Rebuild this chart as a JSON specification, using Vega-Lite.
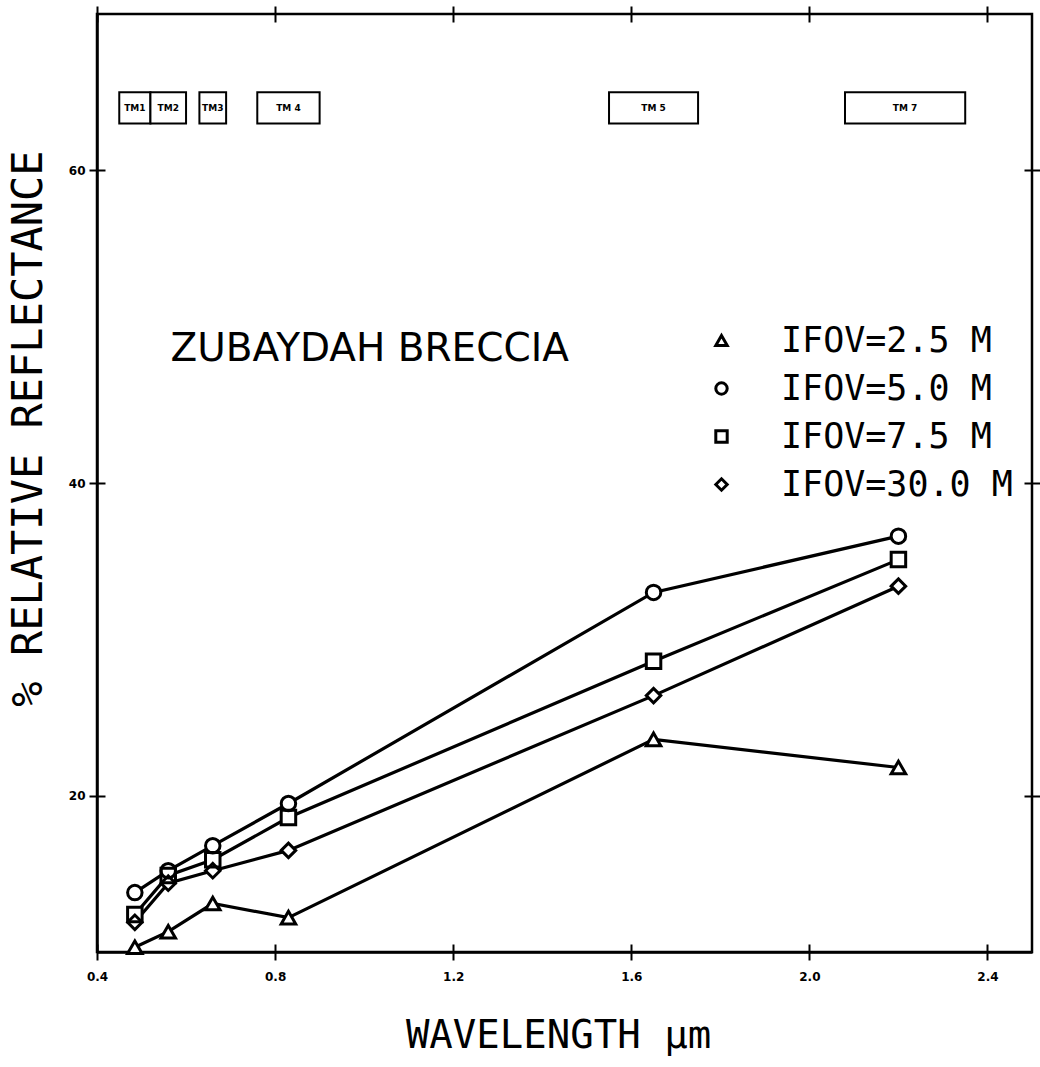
{
  "$schema": "https://vega.github.io/schema/vega-lite/v6.json",
  "width": 935,
  "height": 938,
  "autosize": {"type": "none"},
  "padding": {"left": 97, "top": 14, "right": 8, "bottom": 115},
  "background": "white",
  "config": {
    "view": {"stroke": "black", "strokeWidth": 2.5},
    "axis": {
      "domainColor": "black",
      "tickColor": "black",
      "domainWidth": 2.5,
      "tickWidth": 2,
      "grid": false,
      "labelColor": "black",
      "titleColor": "black"
    }
  },
  "datasets": {
    "spectra": [
      {"series": "IFOV=2.5 M", "wavelength": 0.485, "reflectance": 10.3},
      {"series": "IFOV=2.5 M", "wavelength": 0.56, "reflectance": 11.3},
      {"series": "IFOV=2.5 M", "wavelength": 0.66, "reflectance": 13.1},
      {"series": "IFOV=2.5 M", "wavelength": 0.83, "reflectance": 12.2},
      {"series": "IFOV=2.5 M", "wavelength": 1.65, "reflectance": 23.6},
      {"series": "IFOV=2.5 M", "wavelength": 2.2, "reflectance": 21.8},
      {"series": "IFOV=5.0 M", "wavelength": 0.485, "reflectance": 13.8},
      {"series": "IFOV=5.0 M", "wavelength": 0.56, "reflectance": 15.2},
      {"series": "IFOV=5.0 M", "wavelength": 0.66, "reflectance": 16.8},
      {"series": "IFOV=5.0 M", "wavelength": 0.83, "reflectance": 19.5},
      {"series": "IFOV=5.0 M", "wavelength": 1.65, "reflectance": 33.0},
      {"series": "IFOV=5.0 M", "wavelength": 2.2, "reflectance": 36.6},
      {"series": "IFOV=7.5 M", "wavelength": 0.485, "reflectance": 12.4},
      {"series": "IFOV=7.5 M", "wavelength": 0.56, "reflectance": 14.9},
      {"series": "IFOV=7.5 M", "wavelength": 0.66, "reflectance": 15.9},
      {"series": "IFOV=7.5 M", "wavelength": 0.83, "reflectance": 18.6},
      {"series": "IFOV=7.5 M", "wavelength": 1.65, "reflectance": 28.6},
      {"series": "IFOV=7.5 M", "wavelength": 2.2, "reflectance": 35.1},
      {"series": "IFOV=30.0 M", "wavelength": 0.485, "reflectance": 11.9},
      {"series": "IFOV=30.0 M", "wavelength": 0.56, "reflectance": 14.4},
      {"series": "IFOV=30.0 M", "wavelength": 0.66, "reflectance": 15.2},
      {"series": "IFOV=30.0 M", "wavelength": 0.83, "reflectance": 16.5},
      {"series": "IFOV=30.0 M", "wavelength": 1.65, "reflectance": 26.4},
      {"series": "IFOV=30.0 M", "wavelength": 2.2, "reflectance": 33.4}
    ],
    "bands": [
      {"band": "TM1", "start": 0.45, "end": 0.52, "mid": 0.485},
      {"band": "TM2", "start": 0.52, "end": 0.60, "mid": 0.56},
      {"band": "TM3", "start": 0.63, "end": 0.69, "mid": 0.66},
      {"band": "TM 4", "start": 0.76, "end": 0.90, "mid": 0.83},
      {"band": "TM 5", "start": 1.55, "end": 1.75, "mid": 1.65},
      {"band": "TM 7", "start": 2.08, "end": 2.35, "mid": 2.215}
    ],
    "annotation": [
      {"label": "ZUBAYDAH BRECCIA"}
    ]
  },
  "resolve": {"axis": {"x": "independent", "y": "independent"}, "legend": {"shape": "independent"}},
  "layer": [
    {
      "data": {"name": "bands"},
      "mark": {"type": "rect", "fill": "white", "stroke": "black", "strokeWidth": 2},
      "encoding": {
        "x": {
          "field": "start", "type": "quantitative",
          "scale": {"domain": [0.4, 2.5], "nice": false, "zero": false},
          "axis": {"orient": "top", "values": [0.4, 0.8, 1.2, 1.6, 2.0, 2.4], "labels": false, "domain": false, "title": null, "tickSize": 8}
        },
        "x2": {"field": "end"},
        "y": {
          "datum": 63, "type": "quantitative",
          "scale": {"domain": [10, 70], "nice": false, "zero": false},
          "axis": {"orient": "right", "values": [20, 40, 60], "labels": false, "domain": false, "title": null, "tickSize": 8}
        },
        "y2": {"datum": 65}
      }
    },
    {
      "data": {"name": "bands"},
      "mark": {"type": "text", "font": "DejaVu Sans", "fontWeight": "bold", "fontSize": 9, "color": "black", "baseline": "middle", "align": "center"},
      "encoding": {
        "x": {
          "field": "mid", "type": "quantitative",
          "axis": {"orient": "top", "values": [0.4, 0.8, 1.2, 1.6, 2.0, 2.4], "labels": false, "domain": false, "title": null, "tickSize": -8}
        },
        "y": {
          "datum": 64, "type": "quantitative",
          "axis": {"orient": "right", "values": [20, 40, 60], "labels": false, "domain": false, "title": null, "tickSize": -8}
        },
        "text": {"field": "band"}
      }
    },
    {
      "data": {"name": "spectra"},
      "mark": {"type": "line", "color": "black", "strokeWidth": 3.2},
      "encoding": {
        "x": {
          "field": "wavelength", "type": "quantitative",
          "axis": {
            "orient": "bottom", "values": [0.4, 0.8, 1.2, 1.6, 2.0, 2.4], "format": ".1f",
            "labelFont": "DejaVu Sans", "labelFontWeight": "bold", "labelFontSize": 12, "labelPadding": 11,
            "tickSize": 8, "labelFlush": false,
            "title": "WAVELENGTH µm", "titleFont": "DejaVu Sans Mono", "titleFontSize": 39, "titleFontWeight": "normal",
            "titleX": 461, "titleY": 83, "titleBaseline": "middle", "titleAlign": "center", "titleAnchor": null
          }
        },
        "y": {
          "field": "reflectance", "type": "quantitative",
          "axis": {
            "orient": "left", "values": [20, 40, 60],
            "labelFont": "DejaVu Sans", "labelFontWeight": "bold", "labelFontSize": 12, "labelPadding": 4,
            "tickSize": 8,
            "title": "% RELATIVE REFLECTANCE", "titleFont": "DejaVu Sans Mono", "titleFontSize": 42, "titleFontWeight": "normal",
            "titleAngle": -90, "titleX": -69, "titleY": 414, "titleBaseline": "middle", "titleAlign": "center"
          }
        },
        "detail": {"field": "series"}
      }
    },
    {
      "data": {"name": "spectra"},
      "mark": {"type": "point", "filled": true, "color": "white", "size": 210, "opacity": 1},
      "encoding": {
        "x": {
          "field": "wavelength", "type": "quantitative",
          "axis": {"orient": "bottom", "values": [0.4, 0.8, 1.2, 1.6, 2.0, 2.4], "labels": false, "domain": false, "title": null, "tickSize": -8}
        },
        "y": {
          "field": "reflectance", "type": "quantitative",
          "axis": {"orient": "left", "values": [20, 40, 60], "labels": false, "domain": false, "title": null, "tickSize": -8}
        },
        "shape": {"field": "series", "type": "nominal", "legend": null}
      }
    },
    {
      "data": {"name": "spectra"},
      "mark": {"type": "point", "filled": false, "color": "black", "strokeWidth": 3, "size": 210, "opacity": 1},
      "encoding": {
        "x": {"field": "wavelength", "type": "quantitative", "axis": null},
        "y": {"field": "reflectance", "type": "quantitative", "axis": null},
        "shape": {
          "field": "series", "type": "nominal",
          "scale": {"domain": ["IFOV=2.5 M", "IFOV=5.0 M", "IFOV=7.5 M", "IFOV=30.0 M"], "range": ["triangle-up", "circle", "square", "diamond"]},
          "legend": {
            "orient": "none", "legendX": 595, "legendY": 309, "title": null,
            "labelFont": "DejaVu Sans Mono", "labelFontSize": 35, "labelColor": "black", "labelLimit": 500,
            "symbolSize": 130, "symbolStrokeWidth": 3, "symbolStrokeColor": "black", "symbolOpacity": 1,
            "symbolOffset": 12,
            "labelOffset": 42, "rowPadding": 12
          }
        }
      }
    },
    {
      "data": {"name": "annotation"},
      "mark": {"type": "text", "font": "DejaVu Sans", "fontSize": 39, "color": "black", "align": "left", "baseline": "middle"},
      "encoding": {
        "x": {"datum": 0.565, "type": "quantitative", "axis": null},
        "y": {"datum": 48.6, "type": "quantitative", "axis": null},
        "text": {"field": "label"}
      }
    }
  ]
}
